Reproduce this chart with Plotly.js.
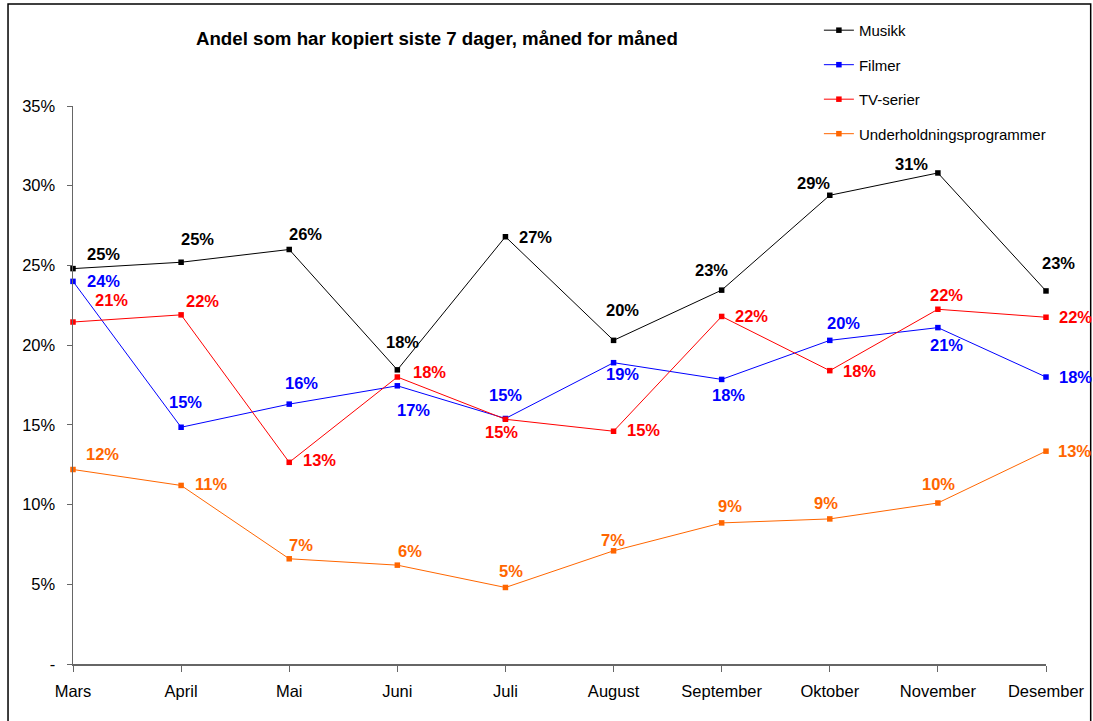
<!DOCTYPE html>
<html>
<head>
<meta charset="utf-8">
<script src="https://cdn.plot.ly/plotly-3.0.1.min.js"></script>
<style>
html,body{margin:0;padding:0;background:#fff;}
#chart{width:1093px;height:721px;}
</style>
</head>
<body>
<div id="chart"></div>
<script>
const months = ['Mars','April','Mai','Juni','Juli','August','September','Oktober','November','Desember'];
const musikk = [24.8, 25.2, 26.0, 18.45, 26.8, 20.3, 23.45, 29.4, 30.8, 23.4];
const filmer = [24.0, 14.85, 16.3, 17.45, 15.4, 18.9, 17.85, 20.3, 21.1, 18.0];
const tvSerier = [21.45, 21.9, 12.65, 18.0, 15.35, 14.6, 21.8, 18.4, 22.25, 21.75];
const underholdning = [12.2, 11.2, 6.6, 6.2, 4.8, 7.1, 8.85, 9.1, 10.1, 13.35];
const seriesNames = ['Musikk','Filmer','TV-serier','Underholdningsprogrammer'];
const yTickVals = [0,5,10,15,20,25,30,35];
const yTickText = ['-','5%','10%','15%','20%','25%','30%','35%'];
const titleText = 'Andel som har kopiert siste 7 dager, måned for måned';

// styling: colours and label offsets (px)
const colors = ['#000000','#0000FF','#FF0000','#FF6600'];
const offsets = [
  [[30,-15],[16,-23],[16,-15],[5,-28],[30,0],[9,-30],[-10,-20],[-16,-12],[-26,-9],[12,-28]],
  [[30,0],[4,-25],[12,-21],[16,24],[0,-23],[9,11],[7,16],[14,-17],[9,17],[29,0]],
  [[38,-22],[21,-14],[30,-2],[32,-5],[-4,13],[30,-1],[30,0],[30,0],[9,-14],[29,0]],
  [[29,-16],[30,-1],[12,-14],[13,-14],[6,-16],[-1,-11],[8,-17],[-4,-16],[1,-19],[28,0]]
];

const allSeries = [musikk, filmer, tvSerier, underholdning];
const FONT = 'Liberation Sans, Arial, sans-serif';

const traces = allSeries.map((vals, k) => ({
  type: 'scatter',
  mode: 'lines+markers',
  x: months,
  y: vals,
  name: seriesNames[k],
  legendgroup: 'g' + k,
  line: {color: colors[k], width: 1},
  marker: {symbol: 'square', size: 5.5, color: colors[k]},
  cliponaxis: false,
  hoverinfo: 'skip'
}));

const annotations = [];
allSeries.forEach((vals, k) => {
  vals.forEach((v, i) => {
    annotations.push({
      x: months[i], y: v, xref: 'x', yref: 'y',
      text: Math.round(v) + '%',
      showarrow: false,
      xanchor: 'center', yanchor: 'middle',
      xshift: offsets[k][i][0], yshift: -offsets[k][i][1],
      font: {family: FONT, size: 16.5, color: colors[k], weight: 'bold'}
    });
  });
});

const layout = {
  width: 1093, height: 721,
  margin: {l: 73, r: 47, t: 106, b: 57, pad: 0},
  paper_bgcolor: '#ffffff', plot_bgcolor: '#ffffff',
  font: {family: FONT, size: 16, color: '#000'},
  title: {
    text: '<b>' + titleText + '</b>',
    font: {family: FONT, size: 18.7, color: '#000'},
    x: 0.374, xref: 'paper', xanchor: 'center',
    y: 1 - 38/721, yref: 'container', yanchor: 'middle'
  },
  showlegend: true,
  legend: {
    x: 0.7666, xref: 'paper', xanchor: 'left',
    y: 1.165, yref: 'paper', yanchor: 'top',
    font: {family: FONT, size: 15, color: '#000'},
    traceorder: 'grouped', tracegroupgap: 12,
    bgcolor: 'rgba(0,0,0,0)', borderwidth: 0
  },
  xaxis: {
    type: 'category', range: [0, 9],
    showgrid: false, zeroline: false,
    showline: true, linecolor: '#666', linewidth: 1.5,
    ticks: 'outside', ticklen: 6, tickcolor: '#666', tickwidth: 1,
    tickfont: {family: FONT, size: 16.5, color: '#000'},
    ticklabelstandoff: 6, fixedrange: true
  },
  yaxis: {
    range: [0, 35],
    tickvals: yTickVals, ticktext: yTickText,
    showgrid: false, zeroline: false,
    showline: true, linecolor: '#666', linewidth: 1.5,
    ticks: 'outside', ticklen: 5, tickcolor: '#666', tickwidth: 1,
    tickfont: {family: FONT, size: 16.5, color: '#000'},
    ticklabelstandoff: 8, fixedrange: true
  },
  shapes: [{
    type: 'rect', xref: 'paper', yref: 'paper',
    x0: (8 - 73) / 973.3, x1: (1091 - 73) / 973.3,
    y0: (664 - 730) / 558, y1: (664 - 4) / 558,
    line: {color: '#000', width: 1.5}, fillcolor: 'rgba(0,0,0,0)', layer: 'below'
  }],
  annotations: annotations
};

Plotly.newPlot('chart', traces, layout, {displayModeBar: false, staticPlot: true});
</script>
</body>
</html>
